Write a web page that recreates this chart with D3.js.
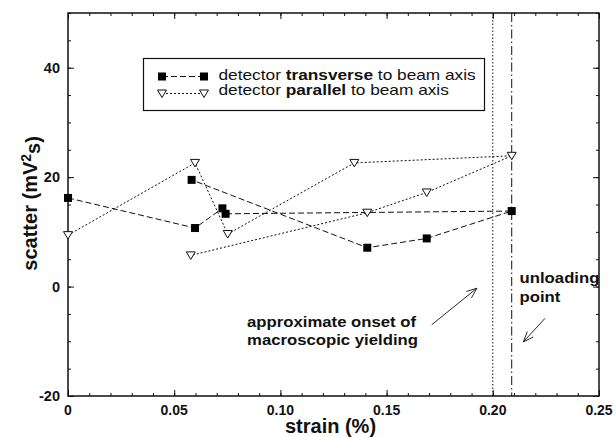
<!DOCTYPE html>
<meta charset="utf-8">
<body style="margin:0;background:#fff">
<div id="chart"></div>
</body>
<script src="https://cdn.jsdelivr.net/npm/d3@7"></script>
<script>
	const width = 616,
	    height = 437,
	    margin = {top: 13, right: 17, bottom: 41, left: 68};

	// data, in plotting order (strain %, scatter mV^2 s)
	const transverseStrain = [0, 0.0598, 0.0727, 0.0742, 0.2089, 0.1689, 0.1409, 0.0582];
	const transverseScatter = [16.2, 10.7, 14.3, 13.3, 13.8, 8.8, 7.1, 19.5];
	const parallelStrain = [0, 0.0598, 0.0752, 0.1348, 0.2089, 0.1689, 0.1409, 0.0578];
	const parallelScatter = [9.4, 22.6, 9.6, 22.6, 23.9, 17.2, 13.5, 5.7];
	const xTicks = [0, 0.05, 0.10, 0.15, 0.20, 0.25];
	const xTickLabels = ["0", "0.05", "0.10", "0.15", "0.20", "0.25"];
	const yTicks = [-20, 0, 20, 40];
	const onsetStrain = 0.200, unloadStrain = 0.2089;
	const legendLabels = [["detector ", "transverse", " to beam axis"], ["detector ", "parallel", " to beam axis"]];

	const svg = d3.select("#chart").append("svg")
	    .attr("width", width)
	    .attr("height", height)
	    .style("font-family", "'Liberation Sans', Arial, sans-serif");

	const x = d3.scaleLinear().domain([0, 0.25]).range([margin.left, width - margin.right]);
	const y = d3.scaleLinear().domain([-20, 50]).range([height - margin.bottom, margin.top]);

	const ink = "#111";

	// minor + major ticks on all four sides, pointing inward
	const xMinor = d3.range(0, 0.2501, 0.01), yMinor = d3.range(-20, 50.01, 5);
	function ticks(axis, scale, vals, len, cls) {
		svg.append("g").attr("class", cls)
		    .attr("transform", axis.t)
		    .call(axis.f(scale).tickValues(vals).tickSize(len).tickFormat(""))
		    .call(g => g.select(".domain").remove())
		    .call(g => g.selectAll("line").attr("stroke", ink).attr("stroke-width", 1));
	}
	const sideBottom = {f: d3.axisTop, t: `translate(0,${y(-20)})`},
	    sideTop = {f: d3.axisBottom, t: `translate(0,${y(50)})`},
	    sideLeft = {f: d3.axisRight, t: `translate(${x(0)},0)`},
	    sideRight = {f: d3.axisLeft, t: `translate(${x(0.25)},0)`};
	[sideBottom, sideTop].forEach(a => { ticks(a, x, xMinor, 3, "minor"); ticks(a, x, xTicks, 6, "major"); });
	[sideLeft, sideRight].forEach(a => { ticks(a, y, yMinor, 3, "minor"); ticks(a, y, yTicks, 6, "major"); });

	// frame
	svg.append("rect")
	    .attr("x", x(0)).attr("y", y(50))
	    .attr("width", x(0.25) - x(0)).attr("height", y(-20) - y(50))
	    .attr("fill", "none").attr("stroke", ink).attr("stroke-width", 1.5);

	// tick labels
	svg.append("g").selectAll("text")
	    .data(xTicks).enter().append("text")
	    .attr("x", d => x(d)).attr("y", 414.5)
	    .attr("text-anchor", "middle")
	    .style("font-size", "14px").style("font-weight", "bold").style("fill", ink)
	    .text((d, i) => xTickLabels[i]);
	svg.append("g").selectAll("text")
	    .data(yTicks).enter().append("text")
	    .attr("x", x(0) - 8).attr("y", d => y(d)).attr("dy", "0.35em")
	    .attr("text-anchor", "end")
	    .style("font-size", "14.5px").style("font-weight", "bold").style("fill", ink)
	    .text(d => d);

	// axis titles
	svg.append("text")
	    .attr("x", x(0.125) - 3).attr("y", 433)
	    .attr("text-anchor", "middle")
	    .style("font-size", "20px").style("font-weight", "bold").style("fill", ink)
	    .text("strain (%)");
	const yt = svg.append("text")
	    .attr("transform", `translate(37,${y(15.2)}) rotate(-90)`)
	    .attr("text-anchor", "middle")
	    .style("font-size", "20px").style("font-weight", "bold").style("fill", ink);
	yt.append("tspan").text("scatter (mV");
	yt.append("tspan").attr("dy", "-0.45em").style("font-size", "14px").text("2");
	yt.append("tspan").attr("dy", "0.45em").text("s)");

	// vertical reference lines
	svg.append("line")
	    .attr("x1", x(onsetStrain)).attr("x2", x(onsetStrain))
	    .attr("y1", y(50)).attr("y2", y(-20))
	    .attr("stroke", ink).attr("stroke-width", 1).attr("stroke-dasharray", "1.5,2");
	svg.append("line")
	    .attr("x1", x(unloadStrain)).attr("x2", x(unloadStrain))
	    .attr("y1", y(50)).attr("y2", y(-20))
	    .attr("stroke", ink).attr("stroke-width", 1).attr("stroke-dasharray", "9,3,1.5,3");

	// series
	const line = d3.line().x(d => x(d[0])).y(d => y(d[1]));
	const tData = transverseStrain.map((s, i) => [s, transverseScatter[i]]);
	const pData = parallelStrain.map((s, i) => [s, parallelScatter[i]]);

	svg.append("path").datum(tData).attr("d", line)
	    .attr("fill", "none").attr("stroke", ink).attr("stroke-width", 1).attr("stroke-dasharray", "6,3");
	svg.append("path").datum(pData).attr("d", line)
	    .attr("fill", "none").attr("stroke", ink).attr("stroke-width", 1).attr("stroke-dasharray", "2,2");

	const tri = "M-4.5,-3.5L4.5,-3.5L0,4Z";
	function square(g, cx, cy) {
		g.append("rect").attr("x", cx - 4).attr("y", cy - 4).attr("width", 8).attr("height", 8).attr("fill", "#000");
	}
	function triangle(g, cx, cy) {
		g.append("path").attr("d", tri).attr("transform", `translate(${cx},${cy})`)
		    .attr("fill", "#fff").attr("stroke", ink).attr("stroke-width", 1);
	}
	const marks = svg.append("g");
	pData.forEach(d => triangle(marks, x(d[0]), y(d[1])));
	tData.forEach(d => square(marks, x(d[0]), y(d[1])));

	// legend (the original type is a little wider than Liberation Sans, hence the scaleX)
	const legend = svg.append("g");
	legend.append("rect")
	    .attr("x", 143.5).attr("y", 58.5).attr("width", 341).attr("height", 52)
	    .attr("fill", "#fff").attr("stroke", ink).attr("stroke-width", 1.2);
	[[76.5, 79.5, "6,3", square], [93.5, 94.5, "2,2", triangle]].forEach((r, i) => {
		legend.append("line").attr("x1", 162).attr("x2", 204).attr("y1", r[0]).attr("y2", r[0])
		    .attr("stroke", ink).attr("stroke-dasharray", r[2]);
		r[3](legend, 162, r[0]);
		r[3](legend, 204, r[0]);
		const t = legend.append("text").attr("transform", `translate(218.5,${r[1]}) scale(1.2,1)`)
		    .style("font-size", "14.4px").style("fill", ink);
		t.append("tspan").text(legendLabels[i][0]);
		t.append("tspan").style("font-weight", "bold").text(legendLabels[i][1]);
		t.append("tspan").text(legendLabels[i][2]);
	});

	// annotations
	function label(lines, sx, sy, gap) {
		const t = svg.append("text").attr("transform", `translate(${x(sx)},${y(sy)}) scale(1.13,1)`)
		    .style("font-size", "14.8px").style("font-weight", "bold").style("fill", ink);
		lines.forEach((l, i) => t.append("tspan").attr("x", 0).attr("y", i * gap).text(l));
	}
	label(["approximate onset of", "macroscopic yielding"], 0.0843, -7.36, 18);
	label(["unloading", "point"], 0.2126, 0.68, 19);

	function arrow(x1, y1, x2, y2) {
		const a1 = [x(x1), y(y1)], a2 = [x(x2), y(y2)];
		const ang = Math.atan2(a2[1] - a1[1], a2[0] - a1[0]), L = 11, w = 0.38;
		const h1 = [a2[0] - L * Math.cos(ang - w), a2[1] - L * Math.sin(ang - w)];
		const h2 = [a2[0] - L * Math.cos(ang + w), a2[1] - L * Math.sin(ang + w)];
		svg.append("path")
		    .attr("d", `M${a1}L${a2}M${h1}L${a2}L${h2}`)
		    .attr("fill", "none").attr("stroke", ink).attr("stroke-width", 0.9);
	}
	arrow(0.1712, -7.0, 0.1925, -0.3);
	arrow(0.2246, -5.8, 0.2144, -10.1);
</script>
